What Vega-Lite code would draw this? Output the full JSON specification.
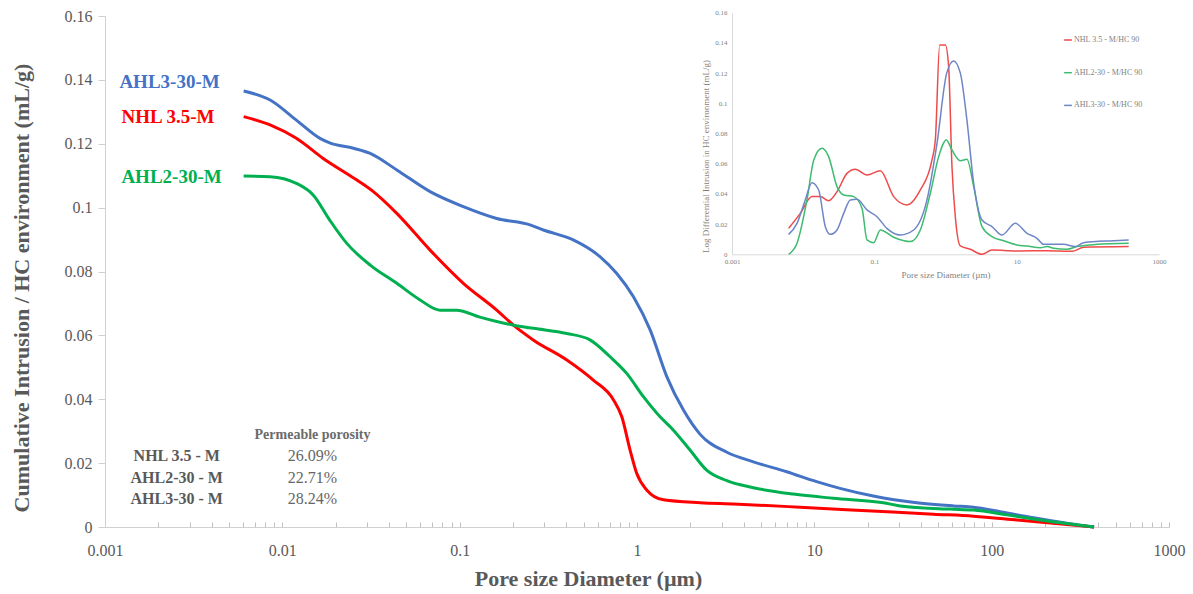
{
  "$schema": "https://vega.github.io/schema/vega-lite/v6.json",
  "width": 1064,
  "height": 511,
  "autosize": "none",
  "padding": {"left": 105, "top": 16, "right": 24, "bottom": 67},
  "background": "white",
  "config": {"view": {"stroke": null}, "font": "Liberation Serif"},
  "datasets": {
    "main": [
      {"d": 0.00605, "v": 0.1365, "s": "AHL3-30-M"},
      {"d": 0.00853, "v": 0.1337, "s": "AHL3-30-M"},
      {"d": 0.012, "v": 0.1274, "s": "AHL3-30-M"},
      {"d": 0.0163, "v": 0.1217, "s": "AHL3-30-M"},
      {"d": 0.0185, "v": 0.1203, "s": "AHL3-30-M"},
      {"d": 0.0252, "v": 0.1186, "s": "AHL3-30-M"},
      {"d": 0.0313, "v": 0.117, "s": "AHL3-30-M"},
      {"d": 0.0442, "v": 0.1118, "s": "AHL3-30-M"},
      {"d": 0.0681, "v": 0.105, "s": "AHL3-30-M"},
      {"d": 0.1049, "v": 0.1003, "s": "AHL3-30-M"},
      {"d": 0.1618, "v": 0.0966, "s": "AHL3-30-M"},
      {"d": 0.2494, "v": 0.0946, "s": "AHL3-30-M"},
      {"d": 0.2966, "v": 0.093, "s": "AHL3-30-M"},
      {"d": 0.437, "v": 0.0899, "s": "AHL3-30-M"},
      {"d": 0.62, "v": 0.0846, "s": "AHL3-30-M"},
      {"d": 0.769, "v": 0.0794, "s": "AHL3-30-M"},
      {"d": 0.955, "v": 0.0721, "s": "AHL3-30-M"},
      {"d": 1.186, "v": 0.0617, "s": "AHL3-30-M"},
      {"d": 1.472, "v": 0.0471, "s": "AHL3-30-M"},
      {"d": 1.828, "v": 0.0366, "s": "AHL3-30-M"},
      {"d": 2.27, "v": 0.029, "s": "AHL3-30-M"},
      {"d": 3.21, "v": 0.0234, "s": "AHL3-30-M"},
      {"d": 4.53, "v": 0.0204, "s": "AHL3-30-M"},
      {"d": 6.98, "v": 0.0173, "s": "AHL3-30-M"},
      {"d": 10.3, "v": 0.0142, "s": "AHL3-30-M"},
      {"d": 13.96, "v": 0.0121, "s": "AHL3-30-M"},
      {"d": 21.5, "v": 0.0097, "s": "AHL3-30-M"},
      {"d": 37.8, "v": 0.0076, "s": "AHL3-30-M"},
      {"d": 60.9, "v": 0.0066, "s": "AHL3-30-M"},
      {"d": 79, "v": 0.0062, "s": "AHL3-30-M"},
      {"d": 111.7, "v": 0.0048, "s": "AHL3-30-M"},
      {"d": 172, "v": 0.0029, "s": "AHL3-30-M"},
      {"d": 265, "v": 0.0012, "s": "AHL3-30-M"},
      {"d": 378, "v": 0, "s": "AHL3-30-M"},
      {"d": 0.00605, "v": 0.1285, "s": "NHL 3.5-M"},
      {"d": 0.00853, "v": 0.1259, "s": "NHL 3.5-M"},
      {"d": 0.012, "v": 0.1217, "s": "NHL 3.5-M"},
      {"d": 0.017, "v": 0.1154, "s": "NHL 3.5-M"},
      {"d": 0.0262, "v": 0.1087, "s": "NHL 3.5-M"},
      {"d": 0.0326, "v": 0.105, "s": "NHL 3.5-M"},
      {"d": 0.0442, "v": 0.0982, "s": "NHL 3.5-M"},
      {"d": 0.0681, "v": 0.0867, "s": "NHL 3.5-M"},
      {"d": 0.1049, "v": 0.0763, "s": "NHL 3.5-M"},
      {"d": 0.1618, "v": 0.0679, "s": "NHL 3.5-M"},
      {"d": 0.201, "v": 0.0632, "s": "NHL 3.5-M"},
      {"d": 0.261, "v": 0.0585, "s": "NHL 3.5-M"},
      {"d": 0.402, "v": 0.0523, "s": "NHL 3.5-M"},
      {"d": 0.567, "v": 0.046, "s": "NHL 3.5-M"},
      {"d": 0.737, "v": 0.0398, "s": "NHL 3.5-M"},
      {"d": 0.821, "v": 0.0345, "s": "NHL 3.5-M"},
      {"d": 0.914, "v": 0.0241, "s": "NHL 3.5-M"},
      {"d": 0.996, "v": 0.0168, "s": "NHL 3.5-M"},
      {"d": 1.134, "v": 0.0116, "s": "NHL 3.5-M"},
      {"d": 1.409, "v": 0.0085, "s": "NHL 3.5-M"},
      {"d": 2.27, "v": 0.0076, "s": "NHL 3.5-M"},
      {"d": 3.5, "v": 0.0072, "s": "NHL 3.5-M"},
      {"d": 8.3, "v": 0.0062, "s": "NHL 3.5-M"},
      {"d": 19.8, "v": 0.0051, "s": "NHL 3.5-M"},
      {"d": 47, "v": 0.004, "s": "NHL 3.5-M"},
      {"d": 79, "v": 0.0034, "s": "NHL 3.5-M"},
      {"d": 139, "v": 0.0022, "s": "NHL 3.5-M"},
      {"d": 378, "v": 0, "s": "NHL 3.5-M"},
      {"d": 0.00605, "v": 0.1099, "s": "AHL2-30-M"},
      {"d": 0.00853, "v": 0.1097, "s": "AHL2-30-M"},
      {"d": 0.012, "v": 0.1076, "s": "AHL2-30-M"},
      {"d": 0.01496, "v": 0.1039, "s": "AHL2-30-M"},
      {"d": 0.0185, "v": 0.0961, "s": "AHL2-30-M"},
      {"d": 0.0231, "v": 0.0888, "s": "AHL2-30-M"},
      {"d": 0.0313, "v": 0.082, "s": "AHL2-30-M"},
      {"d": 0.0442, "v": 0.0763, "s": "AHL2-30-M"},
      {"d": 0.0598, "v": 0.0711, "s": "AHL2-30-M"},
      {"d": 0.0774, "v": 0.0679, "s": "AHL2-30-M"},
      {"d": 0.0962, "v": 0.0679, "s": "AHL2-30-M"},
      {"d": 0.13, "v": 0.0657, "s": "AHL2-30-M"},
      {"d": 0.201, "v": 0.0632, "s": "AHL2-30-M"},
      {"d": 0.261, "v": 0.0622, "s": "AHL2-30-M"},
      {"d": 0.402, "v": 0.0606, "s": "AHL2-30-M"},
      {"d": 0.543, "v": 0.0586, "s": "AHL2-30-M"},
      {"d": 0.705, "v": 0.0533, "s": "AHL2-30-M"},
      {"d": 0.875, "v": 0.0481, "s": "AHL2-30-M"},
      {"d": 1.087, "v": 0.0408, "s": "AHL2-30-M"},
      {"d": 1.349, "v": 0.0345, "s": "AHL2-30-M"},
      {"d": 1.6, "v": 0.0304, "s": "AHL2-30-M"},
      {"d": 1.99, "v": 0.0241, "s": "AHL2-30-M"},
      {"d": 2.47, "v": 0.0178, "s": "AHL2-30-M"},
      {"d": 3.21, "v": 0.0145, "s": "AHL2-30-M"},
      {"d": 4.53, "v": 0.0123, "s": "AHL2-30-M"},
      {"d": 7.62, "v": 0.0103, "s": "AHL2-30-M"},
      {"d": 12.8, "v": 0.009, "s": "AHL2-30-M"},
      {"d": 24.5, "v": 0.0076, "s": "AHL2-30-M"},
      {"d": 30.5, "v": 0.0066, "s": "AHL2-30-M"},
      {"d": 58.3, "v": 0.0056, "s": "AHL2-30-M"},
      {"d": 79, "v": 0.0053, "s": "AHL2-30-M"},
      {"d": 122, "v": 0.0038, "s": "AHL2-30-M"},
      {"d": 214, "v": 0.0017, "s": "AHL2-30-M"},
      {"d": 378, "v": 0, "s": "AHL2-30-M"}
    ],
    "labels": [
      {"d": 0.002311, "v": 0.1393, "s": "AHL3-30-M"},
      {"d": 0.002265, "v": 0.1284, "s": "NHL 3.5-M"},
      {"d": 0.002372, "v": 0.1096, "s": "AHL2-30-M"}
    ],
    "table": [
      {"t": "Permeable porosity", "k": "head", "d": 0.0148, "v": 0.0288},
      {"t": "NHL 3.5 - M", "k": "name", "d": 0.002537, "v": 0.0222},
      {"t": "AHL2-30 - M", "k": "name", "d": 0.002537, "v": 0.0153},
      {"t": "AHL3-30 - M", "k": "name", "d": 0.002537, "v": 0.0088},
      {"t": "26.09%", "k": "value", "d": 0.0148, "v": 0.0222},
      {"t": "22.71%", "k": "value", "d": 0.0148, "v": 0.0153},
      {"t": "28.24%", "k": "value", "d": 0.0148, "v": 0.0088}
    ],
    "inset": [
      {"d": 0.00625, "v": 0.0172, "s": "NHL 3.5 - M/HC 90"},
      {"d": 0.00912, "v": 0.0271, "s": "NHL 3.5 - M/HC 90"},
      {"d": 0.0133, "v": 0.0382, "s": "NHL 3.5 - M/HC 90"},
      {"d": 0.0174, "v": 0.0382, "s": "NHL 3.5 - M/HC 90"},
      {"d": 0.0228, "v": 0.0355, "s": "NHL 3.5 - M/HC 90"},
      {"d": 0.0299, "v": 0.0415, "s": "NHL 3.5 - M/HC 90"},
      {"d": 0.0413, "v": 0.0536, "s": "NHL 3.5 - M/HC 90"},
      {"d": 0.054, "v": 0.0563, "s": "NHL 3.5 - M/HC 90"},
      {"d": 0.0789, "v": 0.0525, "s": "NHL 3.5 - M/HC 90"},
      {"d": 0.1214, "v": 0.0554, "s": "NHL 3.5 - M/HC 90"},
      {"d": 0.187, "v": 0.0382, "s": "NHL 3.5 - M/HC 90"},
      {"d": 0.288, "v": 0.0327, "s": "NHL 3.5 - M/HC 90"},
      {"d": 0.443, "v": 0.0426, "s": "NHL 3.5 - M/HC 90"},
      {"d": 0.646, "v": 0.0625, "s": "NHL 3.5 - M/HC 90"},
      {"d": 0.72, "v": 0.0757, "s": "NHL 3.5 - M/HC 90"},
      {"d": 0.828, "v": 0.1386, "s": "NHL 3.5 - M/HC 90"},
      {"d": 0.995, "v": 0.1386, "s": "NHL 3.5 - M/HC 90"},
      {"d": 1.107, "v": 0.1243, "s": "NHL 3.5 - M/HC 90"},
      {"d": 1.233, "v": 0.058, "s": "NHL 3.5 - M/HC 90"},
      {"d": 1.374, "v": 0.0249, "s": "NHL 3.5 - M/HC 90"},
      {"d": 1.616, "v": 0.0055, "s": "NHL 3.5 - M/HC 90"},
      {"d": 2.23, "v": 0.0033, "s": "NHL 3.5 - M/HC 90"},
      {"d": 3.26, "v": 0.0, "s": "NHL 3.5 - M/HC 90"},
      {"d": 4.5, "v": 0.0029, "s": "NHL 3.5 - M/HC 90"},
      {"d": 7.3, "v": 0.0024, "s": "NHL 3.5 - M/HC 90"},
      {"d": 10.1, "v": 0.0022, "s": "NHL 3.5 - M/HC 90"},
      {"d": 26.7, "v": 0.0024, "s": "NHL 3.5 - M/HC 90"},
      {"d": 60, "v": 0.002, "s": "NHL 3.5 - M/HC 90"},
      {"d": 87.3, "v": 0.0046, "s": "NHL 3.5 - M/HC 90"},
      {"d": 375, "v": 0.0051, "s": "NHL 3.5 - M/HC 90"},
      {"d": 0.00625, "v": 0.0, "s": "AHL2-30 - M/HC 90"},
      {"d": 0.0082, "v": 0.0073, "s": "AHL2-30 - M/HC 90"},
      {"d": 0.0113, "v": 0.036, "s": "AHL2-30 - M/HC 90"},
      {"d": 0.0141, "v": 0.0625, "s": "AHL2-30 - M/HC 90"},
      {"d": 0.0184, "v": 0.0702, "s": "AHL2-30 - M/HC 90"},
      {"d": 0.0228, "v": 0.0647, "s": "AHL2-30 - M/HC 90"},
      {"d": 0.0299, "v": 0.0448, "s": "AHL2-30 - M/HC 90"},
      {"d": 0.0371, "v": 0.0393, "s": "AHL2-30 - M/HC 90"},
      {"d": 0.0513, "v": 0.0382, "s": "AHL2-30 - M/HC 90"},
      {"d": 0.0671, "v": 0.0305, "s": "AHL2-30 - M/HC 90"},
      {"d": 0.0789, "v": 0.0095, "s": "AHL2-30 - M/HC 90"},
      {"d": 0.098, "v": 0.0077, "s": "AHL2-30 - M/HC 90"},
      {"d": 0.1214, "v": 0.0161, "s": "AHL2-30 - M/HC 90"},
      {"d": 0.187, "v": 0.0113, "s": "AHL2-30 - M/HC 90"},
      {"d": 0.321, "v": 0.0084, "s": "AHL2-30 - M/HC 90"},
      {"d": 0.443, "v": 0.0161, "s": "AHL2-30 - M/HC 90"},
      {"d": 0.612, "v": 0.0404, "s": "AHL2-30 - M/HC 90"},
      {"d": 0.802, "v": 0.0647, "s": "AHL2-30 - M/HC 90"},
      {"d": 1.028, "v": 0.0757, "s": "AHL2-30 - M/HC 90"},
      {"d": 1.233, "v": 0.0691, "s": "AHL2-30 - M/HC 90"},
      {"d": 1.616, "v": 0.062, "s": "AHL2-30 - M/HC 90"},
      {"d": 2.0, "v": 0.0629, "s": "AHL2-30 - M/HC 90"},
      {"d": 2.49, "v": 0.0448, "s": "AHL2-30 - M/HC 90"},
      {"d": 3.26, "v": 0.0183, "s": "AHL2-30 - M/HC 90"},
      {"d": 4.5, "v": 0.0117, "s": "AHL2-30 - M/HC 90"},
      {"d": 6.56, "v": 0.009, "s": "AHL2-30 - M/HC 90"},
      {"d": 10.1, "v": 0.0062, "s": "AHL2-30 - M/HC 90"},
      {"d": 13.96, "v": 0.0055, "s": "AHL2-30 - M/HC 90"},
      {"d": 21.5, "v": 0.0044, "s": "AHL2-30 - M/HC 90"},
      {"d": 26.7, "v": 0.0051, "s": "AHL2-30 - M/HC 90"},
      {"d": 33.1, "v": 0.004, "s": "AHL2-30 - M/HC 90"},
      {"d": 51, "v": 0.0033, "s": "AHL2-30 - M/HC 90"},
      {"d": 70.5, "v": 0.0051, "s": "AHL2-30 - M/HC 90"},
      {"d": 134, "v": 0.0066, "s": "AHL2-30 - M/HC 90"},
      {"d": 375, "v": 0.0073, "s": "AHL2-30 - M/HC 90"},
      {"d": 0.00625, "v": 0.0132, "s": "AHL3-30 - M/HC 90"},
      {"d": 0.0082, "v": 0.0205, "s": "AHL3-30 - M/HC 90"},
      {"d": 0.0107, "v": 0.036, "s": "AHL3-30 - M/HC 90"},
      {"d": 0.0133, "v": 0.0474, "s": "AHL3-30 - M/HC 90"},
      {"d": 0.0165, "v": 0.0426, "s": "AHL3-30 - M/HC 90"},
      {"d": 0.0205, "v": 0.0183, "s": "AHL3-30 - M/HC 90"},
      {"d": 0.0241, "v": 0.0132, "s": "AHL3-30 - M/HC 90"},
      {"d": 0.0299, "v": 0.0161, "s": "AHL3-30 - M/HC 90"},
      {"d": 0.0371, "v": 0.0271, "s": "AHL3-30 - M/HC 90"},
      {"d": 0.046, "v": 0.036, "s": "AHL3-30 - M/HC 90"},
      {"d": 0.057, "v": 0.0364, "s": "AHL3-30 - M/HC 90"},
      {"d": 0.0789, "v": 0.0294, "s": "AHL3-30 - M/HC 90"},
      {"d": 0.109, "v": 0.0249, "s": "AHL3-30 - M/HC 90"},
      {"d": 0.15, "v": 0.0172, "s": "AHL3-30 - M/HC 90"},
      {"d": 0.232, "v": 0.0128, "s": "AHL3-30 - M/HC 90"},
      {"d": 0.357, "v": 0.0161, "s": "AHL3-30 - M/HC 90"},
      {"d": 0.549, "v": 0.036, "s": "AHL3-30 - M/HC 90"},
      {"d": 0.76, "v": 0.0735, "s": "AHL3-30 - M/HC 90"},
      {"d": 1.04, "v": 0.12, "s": "AHL3-30 - M/HC 90"},
      {"d": 1.3, "v": 0.128, "s": "AHL3-30 - M/HC 90"},
      {"d": 1.616, "v": 0.12, "s": "AHL3-30 - M/HC 90"},
      {"d": 2.0, "v": 0.0889, "s": "AHL3-30 - M/HC 90"},
      {"d": 2.49, "v": 0.047, "s": "AHL3-30 - M/HC 90"},
      {"d": 3.26, "v": 0.0227, "s": "AHL3-30 - M/HC 90"},
      {"d": 4.5, "v": 0.0183, "s": "AHL3-30 - M/HC 90"},
      {"d": 6.22, "v": 0.0128, "s": "AHL3-30 - M/HC 90"},
      {"d": 9.57, "v": 0.0205, "s": "AHL3-30 - M/HC 90"},
      {"d": 13.96, "v": 0.0139, "s": "AHL3-30 - M/HC 90"},
      {"d": 19.3, "v": 0.0106, "s": "AHL3-30 - M/HC 90"},
      {"d": 23.9, "v": 0.0066, "s": "AHL3-30 - M/HC 90"},
      {"d": 45.7, "v": 0.0066, "s": "AHL3-30 - M/HC 90"},
      {"d": 66.7, "v": 0.0051, "s": "AHL3-30 - M/HC 90"},
      {"d": 87.3, "v": 0.0077, "s": "AHL3-30 - M/HC 90"},
      {"d": 231, "v": 0.009, "s": "AHL3-30 - M/HC 90"},
      {"d": 375, "v": 0.0095, "s": "AHL3-30 - M/HC 90"}
    ]
  },
  "layer": [
    {
      "encoding": {
        "x": {
          "field": "d", "type": "quantitative",
          "scale": {"type": "log", "domain": [0.001, 1000], "nice": false},
          "axis": {
            "title": "Pore size Diameter (µm)",
            "values": [0.001, 0.002, 0.003, 0.004, 0.005, 0.006, 0.007, 0.008, 0.009, 0.01, 0.02, 0.03, 0.04, 0.05, 0.06, 0.07, 0.08, 0.09, 0.1, 0.2, 0.3, 0.4, 0.5, 0.6, 0.7, 0.8, 0.9, 1, 2, 3, 4, 5, 6, 7, 8, 9, 10, 20, 30, 40, 50, 60, 70, 80, 90, 100, 200, 300, 400, 500, 600, 700, 800, 900, 1000],
            "labelExpr": "indexof(['0.001','0.01','0.1','1','10','100','1000'], format(datum.value, '~g')) >= 0 ? format(datum.value, '~g') : ''",
            "labelOverlap": false, "labelFlush": false,
            "grid": false,
            "tickSize": -5, "tickColor": "#bfbfbf", "domainColor": "#d0d0d0",
            "labelFont": "Liberation Serif", "labelFontSize": 16, "labelColor": "#595959", "labelPadding": 20,
            "titleFont": "Liberation Serif", "titleFontSize": 22, "titleFontWeight": "bold", "titleColor": "#595959",
            "titleX": 483, "titleY": 51, "titleBaseline": "middle"
          }
        },
        "y": {
          "field": "v", "type": "quantitative",
          "scale": {"domain": [0, 0.16], "nice": false},
          "axis": {
            "title": "Cumulative Intrusion / HC environment (mL/g)",
            "values": [0, 0.02, 0.04, 0.06, 0.08, 0.1, 0.12, 0.14, 0.16],
            "format": "~g",
            "grid": false,
            "tickSize": 7, "tickColor": "#d0d0d0", "domainColor": "#d0d0d0",
            "labelFont": "Liberation Serif", "labelFontSize": 16, "labelColor": "#595959", "labelPadding": 6,
            "titleFont": "Liberation Serif", "titleFontSize": 22, "titleFontWeight": "bold", "titleColor": "#595959",
            "titleX": -84, "titleY": 271.5, "titleBaseline": "middle"
          }
        }
      },
      "layer": [
        {
          "data": {"name": "main"},
          "mark": {"type": "line", "interpolate": "monotone", "strokeWidth": 3},
          "encoding": {
            "color": {
              "field": "s", "type": "nominal",
              "scale": {"domain": ["AHL3-30-M", "NHL 3.5-M", "AHL2-30-M"], "range": ["#4472C4", "#FF0000", "#00B050"]},
              "legend": null
            }
          }
        },
        {
          "data": {"name": "labels"},
          "mark": {"type": "text", "font": "Liberation Serif", "fontSize": 19, "fontWeight": "bold", "align": "center", "baseline": "middle"},
          "encoding": {
            "text": {"field": "s"},
            "color": {"field": "s", "type": "nominal", "legend": null}
          }
        },
        {
          "data": {"name": "table"},
          "transform": [{"filter": "datum.k === 'name'"}],
          "mark": {"type": "text", "font": "Liberation Serif", "fontSize": 16, "fontWeight": "bold", "align": "center", "baseline": "middle", "color": "#595959"},
          "encoding": {"text": {"field": "t"}}
        },
        {
          "data": {"name": "table"},
          "transform": [{"filter": "datum.k === 'value'"}],
          "mark": {"type": "text", "font": "Liberation Serif", "fontSize": 16, "align": "center", "baseline": "middle", "color": "#666666"},
          "encoding": {"text": {"field": "t"}}
        },
        {
          "data": {"name": "table"},
          "transform": [{"filter": "datum.k === 'head'"}],
          "mark": {"type": "text", "font": "Liberation Serif", "fontSize": 14, "fontWeight": "bold", "align": "center", "baseline": "middle", "color": "#6b6b6b"},
          "encoding": {"text": {"field": "t"}}
        }
      ]
    },
    {
      "data": {"name": "inset"},
      "mark": {"type": "line", "interpolate": "monotone", "strokeWidth": 1.5},
      "encoding": {
        "x": {
          "field": "d", "type": "quantitative",
          "scale": {"type": "log", "domain": [0.001, 1000], "range": [627, 1054], "nice": false},
          "axis": {
            "orient": "bottom", "offset": -272.7,
            "values": [0.001, 0.1, 10, 1000], "format": "~g",
            "labelOverlap": false, "labelFlush": false, "grid": false, "ticks": false,
            "domainColor": "#d9d9d9",
            "labelFont": "Liberation Serif", "labelFontSize": 7, "labelColor": "#7f7f7f", "labelPadding": 3,
            "title": "Pore size Diameter (µm)",
            "titleFont": "Liberation Serif", "titleFontSize": 9, "titleFontWeight": "normal", "titleColor": "#7f7f7f", "titlePadding": 6
          }
        },
        "y": {
          "field": "v", "type": "quantitative",
          "scale": {"domain": [0, 0.16], "range": [238.3, -3.3], "nice": false},
          "axis": {
            "orient": "left", "offset": -627,
            "values": [0, 0.02, 0.04, 0.06, 0.08, 0.1, 0.12, 0.14, 0.16], "format": "~g",
            "grid": false, "ticks": false,
            "domainColor": "#d9d9d9",
            "labelFont": "Liberation Serif", "labelFontSize": 7, "labelColor": "#7f7f7f", "labelPadding": 5,
            "title": "Log Differential Intrusion in HC environment (mL/g)",
            "titleFont": "Liberation Serif", "titleFontSize": 9, "titleFontWeight": "normal", "titleColor": "#7f7f7f",
            "titleX": -27, "titleY": 140, "titleBaseline": "middle"
          }
        },
        "color": {
          "field": "s", "type": "nominal",
          "scale": {"domain": ["NHL 3.5 - M/HC 90", "AHL2-30 - M/HC 90", "AHL3-30 - M/HC 90"], "range": ["#EE4B4B", "#3DBB6E", "#6F86C6"]},
          "legend": {
            "orient": "none", "legendX": 958, "legendY": 19, "title": null, "padding": 0,
            "symbolType": "stroke", "symbolSize": 60, "symbolStrokeWidth": 1.5,
            "labelFont": "Liberation Serif", "labelFontSize": 8, "labelColor": "#7f7f7f", "labelOffset": 1,
            "rowPadding": 23.7
          }
        }
      }
    }
  ],
  "resolve": {"scale": {"x": "independent", "y": "independent", "color": "independent"}}
}
